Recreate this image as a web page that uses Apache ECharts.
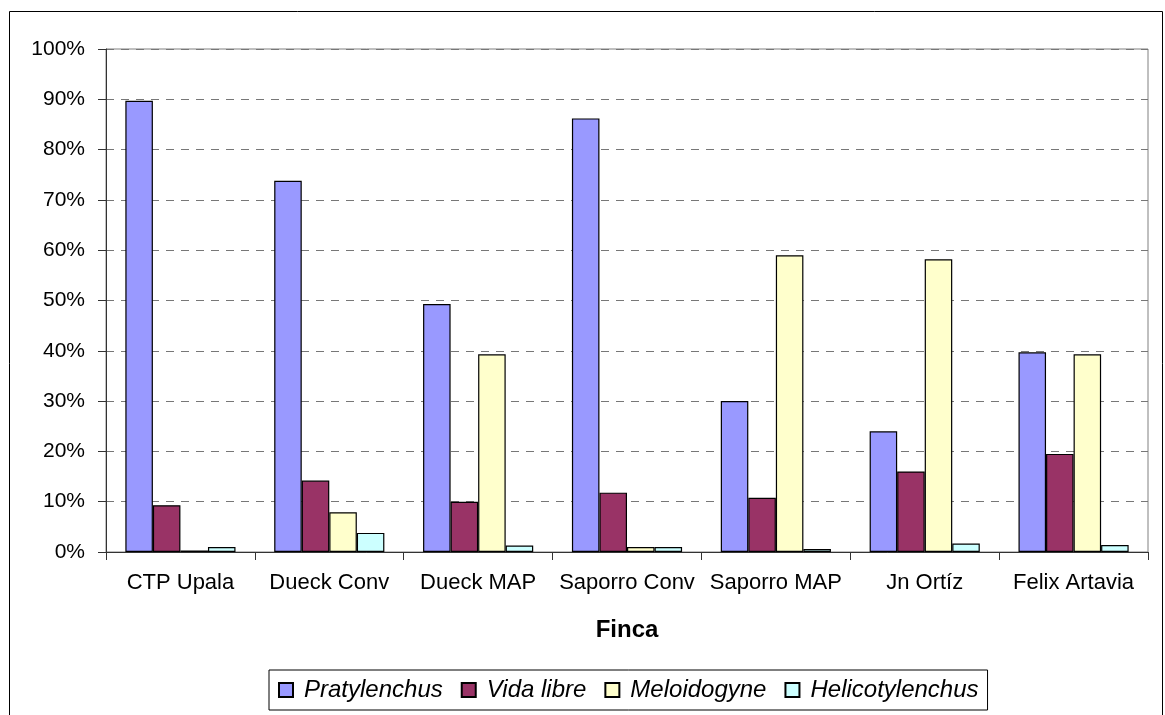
<!DOCTYPE html>
<html>
<head>
<meta charset="utf-8">
<script src="https://cdn.jsdelivr.net/npm/echarts@6/dist/echarts.min.js"></script>
<style>
  html, body { margin: 0; padding: 0; background: #fff; }
  #main { width: 1165px; height: 715px; }
</style>
</head>
<body>
<div id="main"></div>
<script>
var fincas = ['CTP Upala', 'Dueck Conv', 'Dueck MAP', 'Saporro Conv', 'Saporro MAP', 'Jn Ortíz', 'Felix Artavia'];
var pratylenchus = [89.7, 73.8, 49.3, 86.2, 30.0, 24.0, 39.7];
var vidaLibre = [9.3, 14.2, 10.0, 11.8, 10.8, 16.0, 19.5];
var meloidogyne = [0.3, 7.9, 39.3, 1.0, 59.0, 58.2, 39.3];
var helicotylenchus = [1.0, 3.8, 1.3, 1.0, 0.6, 1.7, 1.4];

var font = 'Liberation Sans, Arial, sans-serif';

function serie(name, data, color) {
  return {
    name: name,
    type: 'bar',
    data: data,
    barGap: 0,
    barCategoryGap: '26%',
    itemStyle: { color: color, borderColor: '#000', borderWidth: 1.2 }
  };
}

var chart = echarts.init(document.getElementById('main'));
var option = {
  animation: false,
  textStyle: { fontFamily: font },
  graphic: [{
    type: 'rect',
    shape: { x: 9.5, y: 11.5, width: 1153, height: 720 },
    style: { fill: 'none', stroke: '#000', lineWidth: 1 },
    silent: true
  }],
  grid: {
    left: 106, right: 17, top: 49, bottom: 163,
    show: true, borderColor: '#808080', borderWidth: 1
  },
  legend: {
    left: 269, top: 670,
    padding: [8, 9],
    itemGap: 18,
    itemWidth: 14, itemHeight: 14,
    icon: 'rect',
    borderColor: '#000', borderWidth: 1,
    textStyle: { fontFamily: font, fontSize: 24, fontStyle: 'italic', color: '#000', padding: [0, 0, 0, 6] },
    data: ['Pratylenchus', 'Vida libre', 'Meloidogyne', 'Helicotylenchus']
  },
  xAxis: {
    type: 'category',
    data: fincas,
    name: 'Finca',
    nameLocation: 'middle',
    nameGap: 66,
    nameTextStyle: { fontFamily: font, fontSize: 24, fontWeight: 'bold', color: '#000' },
    axisLine: { lineStyle: { color: '#333', width: 1 } },
    axisTick: { show: true, length: 8, lineStyle: { color: '#333' } },
    axisLabel: { fontFamily: font, fontSize: 22, color: '#000', margin: 20, interval: 0 }
  },
  yAxis: {
    type: 'value',
    min: 0, max: 100, interval: 10,
    axisLine: { show: true, lineStyle: { color: '#333', width: 1 } },
    axisTick: { show: true, length: 8, lineStyle: { color: '#333' } },
    axisLabel: { fontFamily: font, fontSize: 21, color: '#000', margin: 21, formatter: '{value}%' },
    splitLine: { show: true, lineStyle: { color: '#777', type: [8, 7], width: 1 } }
  },
  series: [
    serie('Pratylenchus', pratylenchus, '#9999FF'),
    serie('Vida libre', vidaLibre, '#993366'),
    serie('Meloidogyne', meloidogyne, '#FFFFCC'),
    serie('Helicotylenchus', helicotylenchus, '#CCFFFF')
  ]
};
chart.setOption(option);
</script>
</body>
</html>
